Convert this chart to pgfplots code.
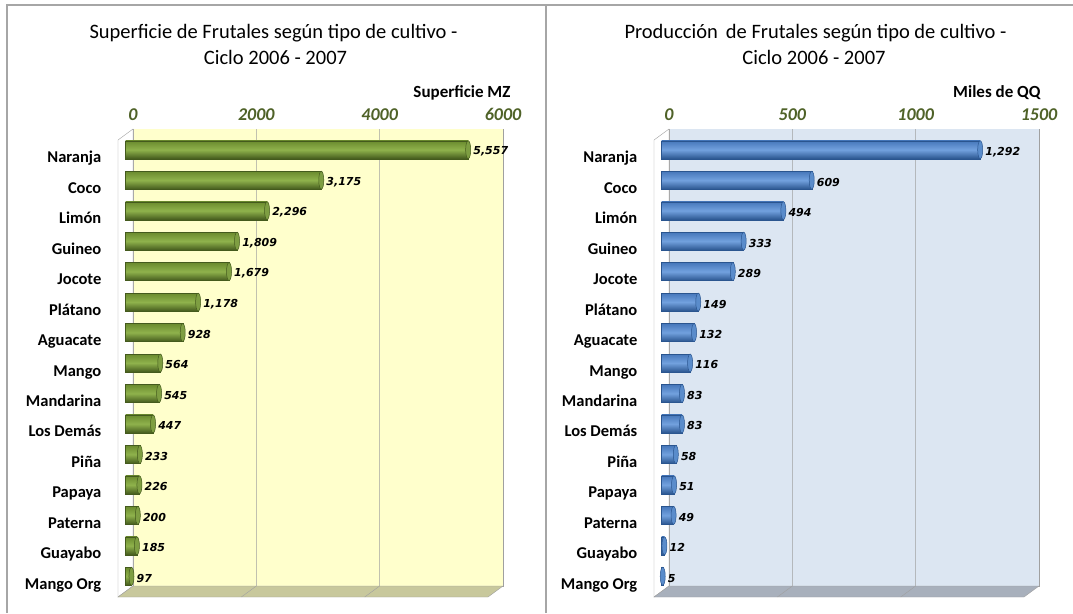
\documentclass[border=0pt]{standalone}
\usepackage{fontspec}
\setmainfont{Carlito}
\newfontfamily\dvs{DejaVu Sans}
\usepackage{pgfplots}
\pgfplotsset{compat=1.18}
\definecolor{framec}{HTML}{A6A6A6}
\definecolor{gridc}{HTML}{A0A0A0}
\definecolor{tickc}{HTML}{4F6228}
\definecolor{ybg}{HTML}{FFFFCC}
\definecolor{yfloor}{HTML}{C8C89C}
\definecolor{bbg}{HTML}{DCE6F2}
\definecolor{bfloor}{HTML}{A8B0BC}
\definecolor{gtop}{HTML}{6A8A2E}
\definecolor{gmid}{HTML}{8FB24C}
\definecolor{gbot}{HTML}{445A1D}
\definecolor{gcap}{HTML}{7E9E42}
\definecolor{btop}{HTML}{4677BA}
\definecolor{bmid}{HTML}{72A1DE}
\definecolor{bbot}{HTML}{2A558F}
\definecolor{bcap}{HTML}{5A8CCB}

\pgfplotstableread{
idx sup prod
0 5557 1292
1 3175 609
2 2296 494
3 1809 333
4 1679 289
5 1178 149
6 928 132
7 564 116
8 545 83
9 447 83
10 233 58
11 226 51
12 200 49
13 185 12
14 97 5
}\datatab

\newcommand\bk[2]{([xshift=7.5pt,yshift=5.5pt]axis cs:#1,#2)}
\newcommand\fr[2]{([xshift=-7.5pt,yshift=-5.5pt]axis cs:#1,#2)}

\pgfplotsset{
  /pgf/number format/assume math mode=true,
  panel/.style={
    anchor=south west, scale only axis, width=370pt, height=457pt,
    ymin=-0.5, ymax=14.5, y dir=reverse, clip=false,
    axis x line*=top, axis y line*=left, axis line style={draw=none},
    major tick length=0pt,
    xticklabel style={anchor=base, xshift=7.5pt, yshift=14pt, text=tickc,
      font=\fontsize{18}{18}\selectfont\bfseries\itshape},
    ytick={0,...,14},
    yticklabels={Naranja,Coco,Limón,Guineo,Jocote,Plátano,Aguacate,Mango,Mandarina,Los Demás,Piña,Papaya,Paterna,Guayabo,Mango Org},
    yticklabel style={anchor=base east, inner sep=0pt, xshift=-24pt, yshift=-13pt,
      font=\fontsize{16.5}{16.5}\selectfont\bfseries},
  },
  dlab/.style={nodes near coords={\pgfmathprintnumber[1000 sep={,},assume math mode=true]{\pgfplotspointmeta}},
    point meta=x,
    every node near coord/.append style={anchor=west, inner sep=0pt, xshift=5pt, yshift=-2pt,
      text=black, font=\dvs\fontsize{11}{11}\selectfont\bfseries\itshape}},
}

\begin{document}
\begin{tikzpicture}[x=1pt,y=1pt]
\useasboundingbox (0,0) rectangle (1073,613);
\draw[framec, line width=2pt] (7,0) -- (7,608) -- (1073,608);
\draw[framec, line width=2pt] (546,0) -- (546,608);

\node[anchor=base, font=\fontsize{20.5}{24}\selectfont] at (273.5,574.5) {Superficie de Frutales según tipo de cultivo -};
\node[anchor=base, font=\fontsize{20.5}{24}\selectfont] at (275.5,548) {Ciclo 2006 - 2007};
\node[anchor=base east, font=\fontsize{17}{20}\selectfont\bfseries] at (514,515) {Superficie MZ};

\node[anchor=base, font=\fontsize{20.5}{24}\selectfont] at (815.5,574.5) {Producción\, de Frutales según tipo de cultivo -};
\node[anchor=base, font=\fontsize{20.5}{24}\selectfont] at (814,548) {Ciclo 2006 - 2007};
\node[anchor=base east, font=\fontsize{17}{20}\selectfont\bfseries] at (1044,515) {Miles de QQ};

% ---------------- left panel
\begin{axis}[panel, at={(125.5pt,21.5pt)},
  xmin=0, xmax=6000, xtick={0,2000,4000,6000}, xticklabels={0,2000,4000,6000}]
  \fill[ybg] \bk{0}{-0.5} rectangle \bk{6000}{14.5};
  \draw[gridc] \bk{0}{-0.5} -- \bk{0}{14.5} -- \bk{6000}{14.5} -- \bk{6000}{-0.5};
  \filldraw[fill=white, draw=gridc] \fr{0}{-0.5} -- \bk{0}{-0.5} -- \bk{0}{14.5} -- \fr{0}{14.5} -- cycle;
  \filldraw[fill=yfloor, draw=gridc] \bk{0}{14.5} -- \bk{6000}{14.5} -- \fr{6000}{14.5} -- \fr{0}{14.5} -- cycle;
  \draw[gridc] \bk{2000}{-0.5} -- \bk{2000}{14.5} -- \fr{2000}{14.5};
  \draw[gridc] \bk{4000}{-0.5} -- \bk{4000}{14.5} -- \fr{4000}{14.5};
  \pgfplotsinvokeforeach{0,...,14}{
    \addplot[xbar, bar shift=0pt, bar width=18pt, draw=gbot, line width=0.3pt,
      top color=gtop, bottom color=gbot, middle color=gmid,
      restrict y to domain=#1:#1]
      table[x=sup, y=idx] {\datatab};
  }
  \addplot[only marks, mark=*, mark size=9pt, mark options={xscale=0.28, fill=gcap, draw=gbot, line width=0.5pt}]
    table[x=sup, y=idx] {\datatab};
  \addplot[xbar, bar shift=0pt, bar width=18pt, draw=none, fill=none, dlab]
    table[x=sup, y=idx] {\datatab};
\end{axis}

% ---------------- right panel
\begin{axis}[panel, at={(661.5pt,21.5pt)},
  xmin=0, xmax=1500, xtick={0,500,1000,1500}, xticklabels={0,500,1000,1500}]
  \fill[bbg] \bk{0}{-0.5} rectangle \bk{1500}{14.5};
  \draw[gridc] \bk{0}{-0.5} -- \bk{0}{14.5} -- \bk{1500}{14.5} -- \bk{1500}{-0.5};
  \filldraw[fill=white, draw=gridc] \fr{0}{-0.5} -- \bk{0}{-0.5} -- \bk{0}{14.5} -- \fr{0}{14.5} -- cycle;
  \filldraw[fill=bfloor, draw=gridc] \bk{0}{14.5} -- \bk{1500}{14.5} -- \fr{1500}{14.5} -- \fr{0}{14.5} -- cycle;
  \draw[gridc] \bk{500}{-0.5} -- \bk{500}{14.5} -- \fr{500}{14.5};
  \draw[gridc] \bk{1000}{-0.5} -- \bk{1000}{14.5} -- \fr{1000}{14.5};
  \pgfplotsinvokeforeach{0,...,14}{
    \addplot[xbar, bar shift=0pt, bar width=18pt, draw=bbot, line width=0.3pt,
      top color=btop, bottom color=bbot, middle color=bmid,
      restrict y to domain=#1:#1]
      table[x=prod, y=idx] {\datatab};
  }
  \addplot[only marks, mark=*, mark size=9pt, mark options={xscale=0.28, fill=bcap, draw=bbot, line width=0.5pt}]
    table[x=prod, y=idx] {\datatab};
  \addplot[xbar, bar shift=0pt, bar width=18pt, draw=none, fill=none, dlab]
    table[x=prod, y=idx] {\datatab};
\end{axis}
\end{tikzpicture}
\end{document}
